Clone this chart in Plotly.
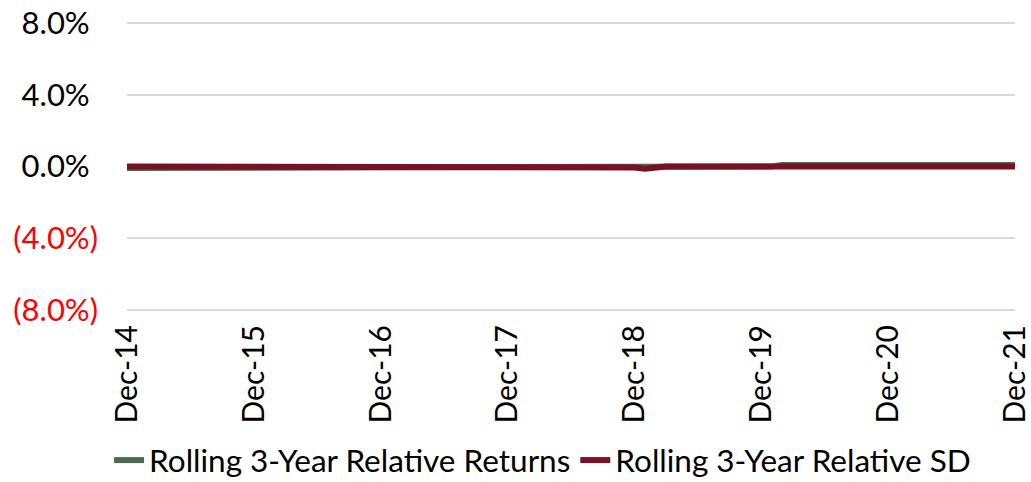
import plotly.graph_objects as go
import pandas as pd

# Monthly dates Dec-2014 .. Dec-2021
dates = pd.date_range("2014-12-31", "2021-12-31", freq="ME")

# Rolling 3-Year Relative Returns (%)
returns_vals = ([-0.08] * 52) + ([0.0] * 10) + ([0.08] * 23)
# Rolling 3-Year Relative SD (%)
sd_vals = ([0.0] * 48) + [-0.06, -0.12, -0.05] + ([0.0] * 34)

y_tickvals = [8, 4, 0, -4, -8]
y_ticktext = [
    "8.0%<span style='color:rgba(0,0,0,0)'>)</span>",
    "4.0%<span style='color:rgba(0,0,0,0)'>)</span>",
    "0.0%<span style='color:rgba(0,0,0,0)'>)</span>",
    "<span style='color:#FF0000'>(4.0%)</span>",
    "<span style='color:#FF0000'>(8.0%)</span>",
]
x_tickvals = ["2014-12-31", "2015-12-31", "2016-12-31", "2017-12-31",
              "2018-12-31", "2019-12-31", "2020-12-31", "2021-12-31"]
x_ticktext = ["Dec-14", "Dec-15", "Dec-16", "Dec-17", "Dec-18", "Dec-19", "Dec-20", "Dec-21"]

font_family = "Lato, sans-serif"

fig = go.Figure()
fig.add_trace(go.Scatter(
    x=dates, y=returns_vals, mode="lines",
    name="Rolling 3-Year Relative Returns",
    line=dict(color="#4A6B52", width=6),
))
fig.add_trace(go.Scatter(
    x=dates, y=sd_vals, mode="lines",
    name="Rolling 3-Year Relative SD",
    line=dict(color="#7B1022", width=6),
))

fig.update_layout(
    width=1031, height=482,
    margin=dict(l=127, r=16, t=21, b=170, autoexpand=False),
    paper_bgcolor="white", plot_bgcolor="white",
    font=dict(family=font_family, size=30, color="#000000"),
    showlegend=True,
    legend=dict(
        orientation="h", x=0.468, xanchor="center", y=-0.509, yanchor="middle",
        font=dict(size=31.5), itemwidth=30, tracegroupgap=0,
        bgcolor="rgba(0,0,0,0)",
    ),
    xaxis=dict(
        range=["2014-12-31", "2021-12-31"],
        tickvals=x_tickvals, ticktext=x_ticktext,
        tickangle=-90, showgrid=False, zeroline=False, showline=False,
        ticks="", tickfont=dict(size=30), automargin=False,
        ticklabelstandoff=6, ticklabeloverflow="allow",
    ),
    yaxis=dict(
        range=[-8.12, 8.12], tickvals=y_tickvals, ticktext=y_ticktext,
        showgrid=True, gridcolor="#D9D9D9", gridwidth=1.5,
        zeroline=False, showline=False, ticks="",
        ticklabelstandoff=28, automargin=False, ticklabeloverflow="allow",
        tickfont=dict(size=31),
    ),
)

fig.write_html(
    "out.html",
    config={"displayModeBar": False},
    post_script="document.body.style.margin='0';document.body.style.overflow='hidden';",
)
